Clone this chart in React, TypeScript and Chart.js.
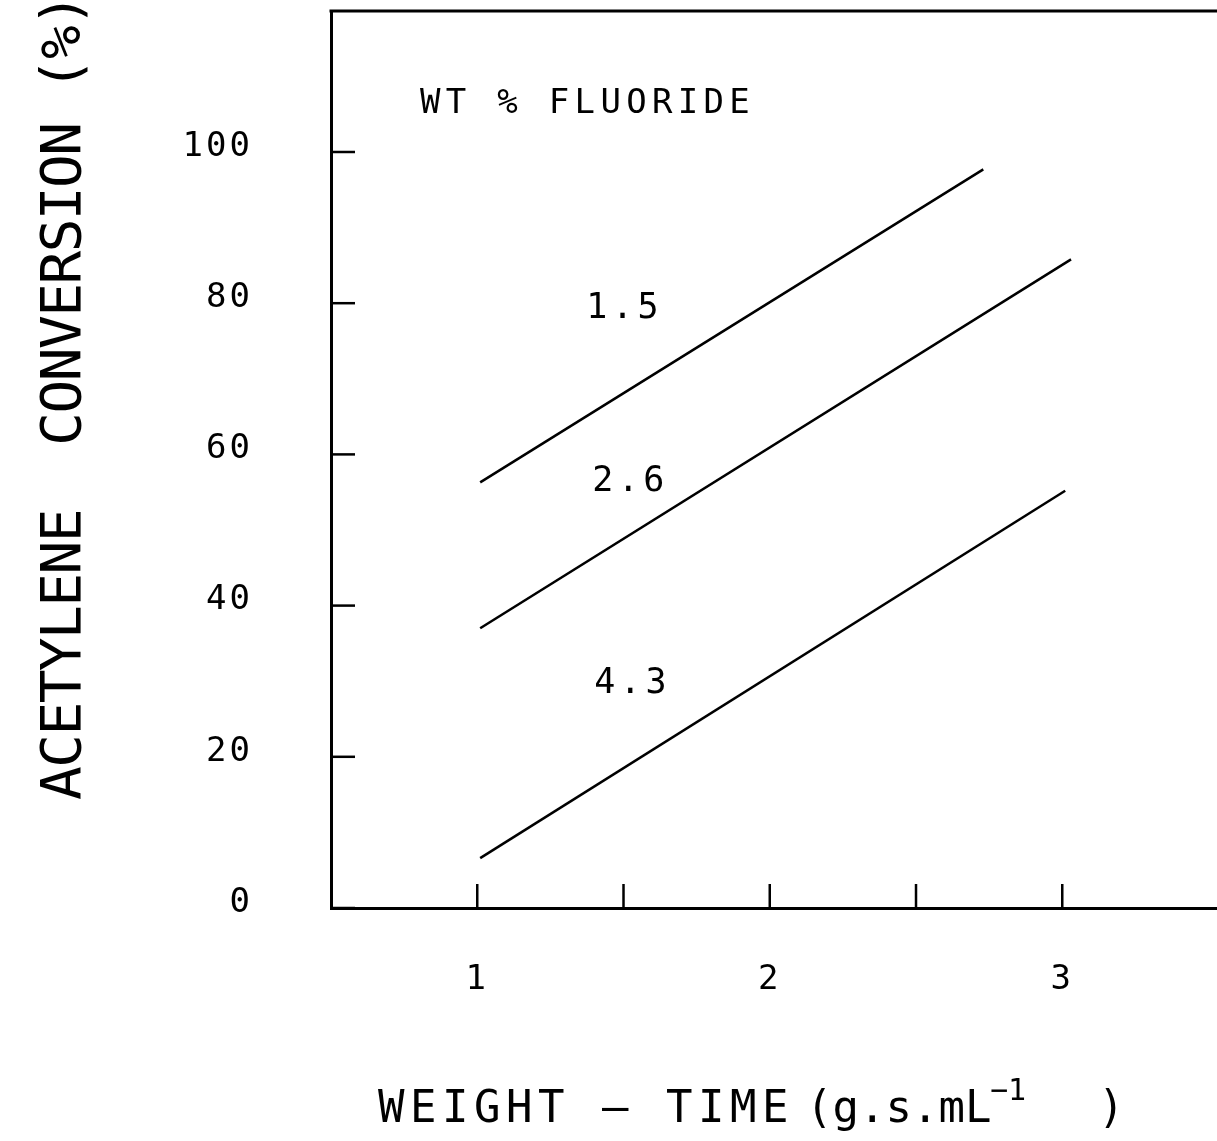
import React, { useEffect, useRef } from 'react';
import { Chart, registerables } from 'chart.js';

Chart.register(...registerables);

// ---- data ----
const seriesNames = ['1.5', '2.6', '4.3'];
const series15X = [1.01, 2.73];
const series15Y = [56.3, 97.7];
const series26X = [1.01, 3.03];
const series26Y = [37.0, 85.8];
const series43X = [1.01, 3.01];
const series43Y = [6.6, 55.2];

const yTicks = [0, 20, 40, 60, 80, 100];
const yTickLabels = ['0', '20', '40', '60', '80', '100'];
const xTicks = [1, 1.5, 2, 2.5, 3];
const xTickLabels = ['1', '', '2', '', '3'];

const legendTitle = 'WT % FLUORIDE';
const yTitle = 'ACETYLENE  CONVERSION (%)';
const xTitleMain = 'WEIGHT – TIME';
const xTitleUnit = '(g.s.mL';
const xTitleExp = '−1';
const xTitleClose = ')';

// anchors of the curve labels, in data units (left edge / baseline)
const labelAnchorX = [1.373, 1.393, 1.4];
const labelAnchorY = [78.0, 55.2, 28.5];

const FONT = '"DejaVu Sans Mono", monospace';

const toPoints = (xs: number[], ys: number[]) => xs.map((x, i) => ({ x, y: ys[i] }));

const framePlugin = {
  id: 'frame',
  beforeDraw(chart: any) {
    chart.ctx.letterSpacing = '3px';
  },
  afterDraw(chart: any) {
    const { ctx, chartArea, scales } = chart;
    const xs = scales.x;
    const ys = scales.y;
    ctx.save();
    ctx.strokeStyle = '#000';
    ctx.lineCap = 'butt';
    // top frame line
    ctx.lineWidth = 3;
    ctx.beginPath();
    ctx.moveTo(chartArea.left - 1.5, chartArea.top);
    ctx.lineTo(chartArea.right, chartArea.top);
    ctx.stroke();
    // inward tick marks
    ctx.lineWidth = 2.5;
    const tl = 24;
    xs.ticks.forEach((t: any) => {
      const px = xs.getPixelForValue(t.value);
      ctx.beginPath();
      ctx.moveTo(px, chartArea.bottom);
      ctx.lineTo(px, chartArea.bottom - tl);
      ctx.stroke();
    });
    ys.ticks.forEach((t: any) => {
      const py = ys.getPixelForValue(t.value);
      ctx.beginPath();
      ctx.moveTo(chartArea.left, py);
      ctx.lineTo(chartArea.left + tl, py);
      ctx.stroke();
    });

    ctx.fillStyle = '#000';
    ctx.textAlign = 'left';
    ctx.textBaseline = 'alphabetic';

    // legend title
    ctx.font = `34px ${FONT}`;
    ctx.letterSpacing = '5.3px';
    ctx.fillText(legendTitle, 420, 113);

    // curve labels
    ctx.font = `35px ${FONT}`;
    ctx.letterSpacing = '4.5px';
    seriesNames.forEach((name, i) => {
      ctx.fillText(name, xs.getPixelForValue(labelAnchorX[i]), ys.getPixelForValue(labelAnchorY[i]));
    });

    // x title
    ctx.font = `44px ${FONT}`;
    ctx.letterSpacing = '5.5px';
    ctx.fillText(xTitleMain, 378, 1122);
    ctx.letterSpacing = '0px';
    ctx.fillText(xTitleUnit, 806, 1122);
    ctx.font = `30px ${FONT}`;
    ctx.fillText(xTitleExp, 990, 1100);
    ctx.font = `44px ${FONT}`;
    ctx.fillText(xTitleClose, 1098, 1122);

    // y title
    ctx.save();
    ctx.translate(80, 800);
    ctx.rotate(-Math.PI / 2);
    ctx.font = `56px ${FONT}`;
    ctx.letterSpacing = '-1.5px';
    ctx.fillText(yTitle, 0, 0);
    ctx.restore();

    ctx.restore();
    ctx.letterSpacing = '0px';
  },
};

export default function App() {
  const ref = useRef<HTMLCanvasElement>(null);
  useEffect(() => {
    if (!ref.current) return;
    const tickFont = { family: FONT, size: 34 };
    const chart = new Chart(ref.current, {
      type: 'line',
      data: {
        datasets: [
          { label: seriesNames[0], data: toPoints(series15X, series15Y) },
          { label: seriesNames[1], data: toPoints(series26X, series26Y) },
          { label: seriesNames[2], data: toPoints(series43X, series43Y) },
        ].map((d) => ({
          ...d,
          borderColor: '#000',
          borderWidth: 2.5,
          pointRadius: 0,
          fill: false,
          tension: 0,
        })),
      },
      options: {
        animation: false,
        responsive: false,
        layout: { padding: { top: 11, right: 0, left: 0, bottom: 0 } },
        plugins: { legend: { display: false }, tooltip: { enabled: false } },
        scales: {
          x: {
            type: 'linear',
            min: 0.5,
            max: 3.529,
            afterFit: (s: any) => {
              s.height = 1141 - 908;
              s.paddingLeft = 0;
              s.paddingRight = 0;
            },
            afterBuildTicks: (s: any) => {
              s.ticks = xTicks.map((v) => ({ value: v }));
            },
            grid: { display: false, drawTicks: false },
            border: { display: true, color: '#000', width: 3 },
            ticks: {
              callback: (_v: any, i: number) => xTickLabels[i],
              font: tickFont,
              color: '#000',
              padding: 52,
              maxRotation: 0,
              autoSkip: false,
            },
          },
          y: {
            type: 'linear',
            min: 0,
            max: 118.65,
            afterFit: (s: any) => {
              s.width = 331;
              s.paddingTop = 0;
              s.paddingBottom = 0;
            },
            afterBuildTicks: (s: any) => {
              s.ticks = yTicks.map((v) => ({ value: v }));
            },
            grid: { display: false, drawTicks: false },
            border: { display: true, color: '#000', width: 3 },
            ticks: {
              callback: (_v: any, i: number) => yTickLabels[i],
              font: tickFont,
              color: '#000',
              padding: 78,
              labelOffset: -5,
              autoSkip: false,
            },
          },
        },
      },
      plugins: [framePlugin],
    } as any);
    return () => chart.destroy();
  }, []);
  return (
    <div style={{ position: 'absolute', left: 0, top: 0, width: 1217, height: 1141, background: '#fff' }}>
      <canvas ref={ref} width={1217} height={1141} style={{ display: 'block' }} />
    </div>
  );
}
